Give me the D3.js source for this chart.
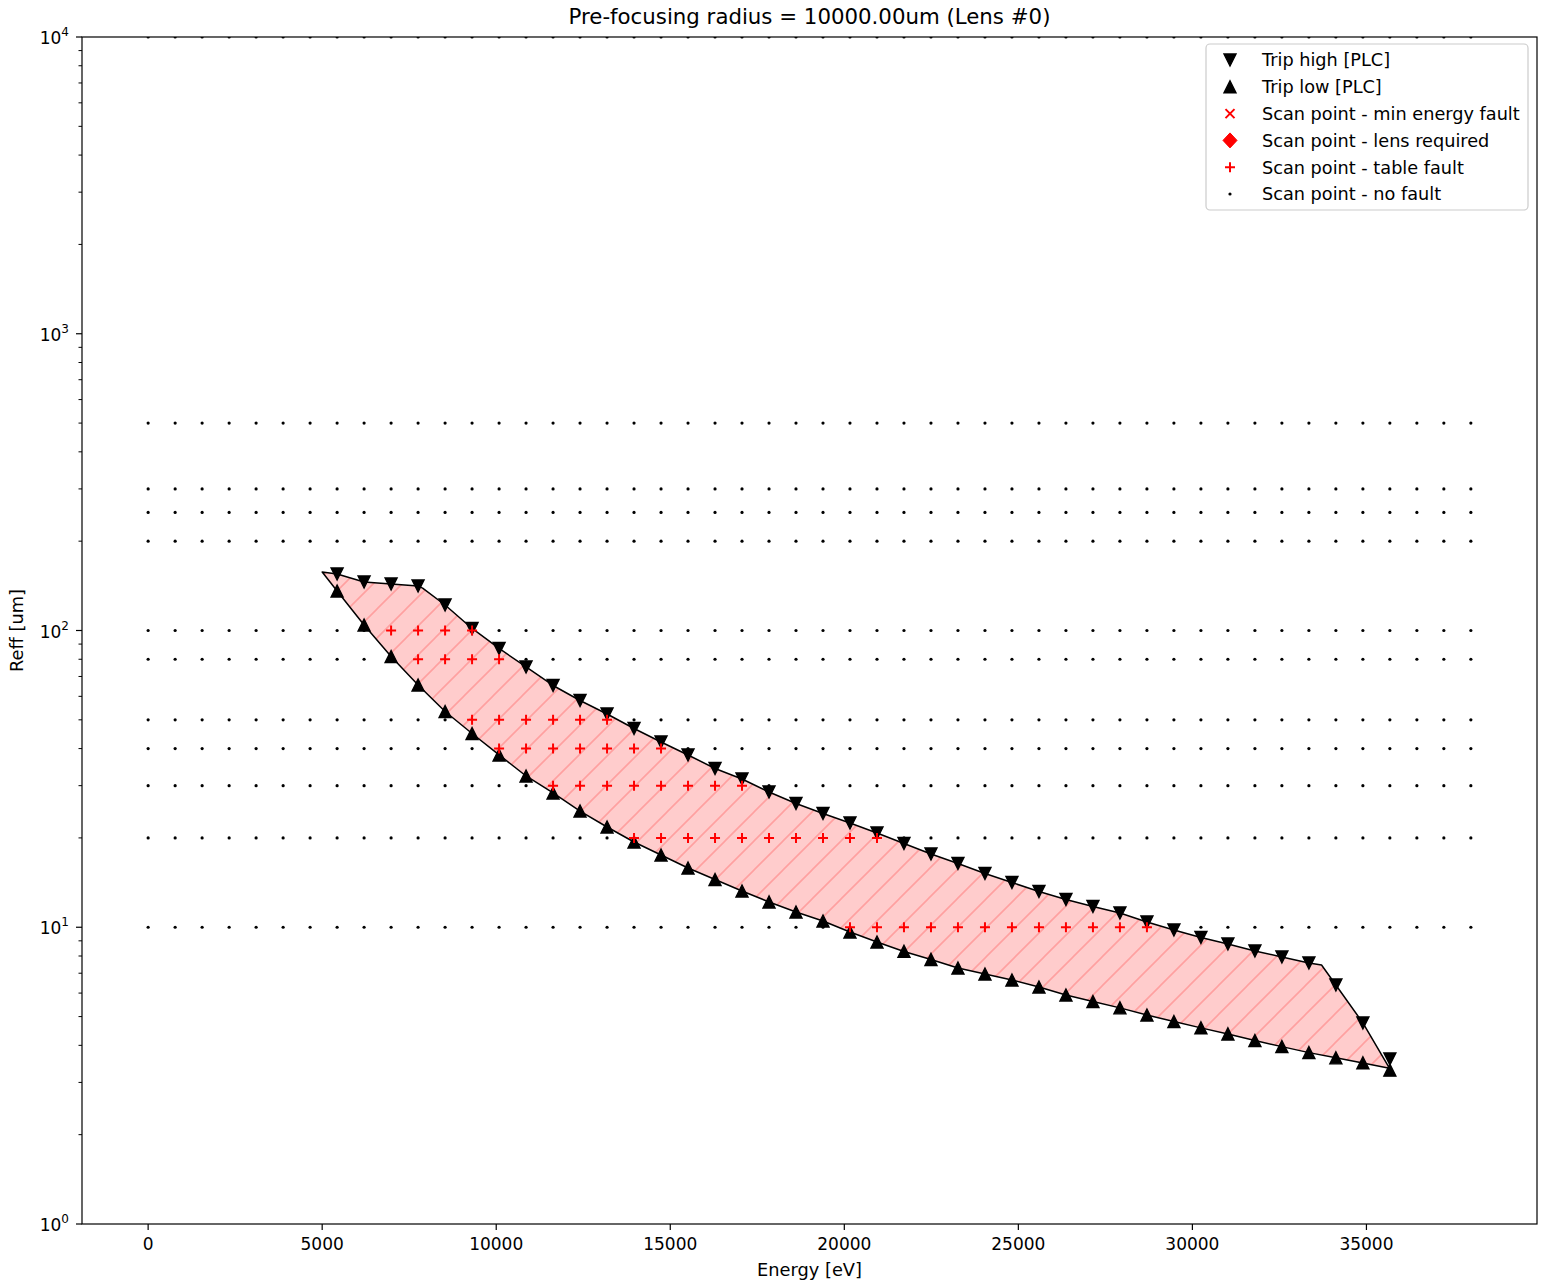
<!DOCTYPE html>
<html><head><meta charset="utf-8">
<script src="https://cdn.jsdelivr.net/npm/d3@7"></script>
<style>body{margin:0;background:#fff} svg{display:block} text{font-family:"DejaVu Sans",sans-serif;fill:#000}</style>
</head><body>
<svg id="chart" width="1544" height="1283"></svg>
<script>
// ---------- data ----------
const scanEnergies = [0,776,1551,2327,3102,3878,4653,5429,6204,6980,7755,8531,9306,10082,10857,11633,12408,13184,13959,14735,15510,16286,17061,17837,18612,19388,20163,20939,21714,22490,23265,24041,24816,25592,26367,27143,27918,28694,29469,30245,31020,31796,32571,33347,34122,34898,35673,36449,37224,38000];
const scanReff = [10,20,30,40,50,80,100,200,250,300,500,10000];
const tripEnergies = [5429,6204,6980,7755,8531,9306,10082,10857,11633,12408,13184,13959,14735,15510,16286,17061,17837,18612,19388,20163,20939,21714,22490,23265,24041,24816,25592,26367,27143,27918,28694,29469,30245,31020,31796,32571,33347,34122,34898,35673];
const tripHigh = [155.0,145.7,143.4,141.3,121.9,101.6,87.0,75.35,65.27,58.08,52.31,46.74,42.11,38.07,34.28,31.60,28.57,26.12,24.17,22.45,20.78,19.15,17.65,16.40,15.18,14.15,13.20,12.40,11.75,11.17,10.41,9.79,9.24,8.78,8.32,7.94,7.58,6.39,4.76,3.60];
const tripLow = [135.9,104.4,81.74,65.51,53.33,44.98,38.07,32.34,28.35,24.64,21.77,19.38,17.52,15.84,14.49,13.25,12.17,11.26,10.50,9.64,8.92,8.29,7.79,7.29,6.96,6.64,6.29,5.91,5.62,5.35,5.06,4.81,4.58,4.37,4.15,3.96,3.78,3.63,3.49,3.30];
const tableFault = [
  {reff:100, energies:[6980,7755,8531,9306]},
  {reff:80,  energies:[7755,8531,9306,10082]},
  {reff:50,  energies:[9306,10082,10857,11633,12408,13184]},
  {reff:40,  energies:[10082,10857,11633,12408,13184,13959,14735]},
  {reff:30,  energies:[11633,12408,13184,13959,14735,15510,16286,17061]},
  {reff:20,  energies:[13959,14735,15510,16286,17061,17837,18612,19388,20163,20939]},
  {reff:10,  energies:[20163,20939,21714,22490,23265,24041,24816,25592,26367,27143,27918,28694]}
];
const bandStart = [5000,157.4];
const bandEnd = [35660,3.35];
const bandKinkLow = [7885,139];
const bandKinkHigh = [33710,7.46];
const xTicks = [0,5000,10000,15000,20000,25000,30000,35000];
const yDecades = [0,1,2,3,4];
const legendLabels = ["Trip high [PLC]","Trip low [PLC]","Scan point - min energy fault","Scan point - lens required","Scan point - table fault","Scan point - no fault"];
const titleText = "Pre-focusing radius = 10000.00um (Lens #0)";

// ---------- layout ----------
const svg = d3.select("#chart");
const L = 82, R = 1537, T = 37, B = 1224;
const x = d3.scaleLinear().domain([-1900, 39900]).range([L, R]);
const y = d3.scaleLog().domain([1, 10000]).range([B, T]);

const defs = svg.append("defs");
defs.append("clipPath").attr("id","clip").append("rect")
  .attr("x",L).attr("y",T).attr("width",R-L).attr("height",B-T);
const HS = 29;
const pat = defs.append("pattern").attr("id","hatch").attr("patternUnits","userSpaceOnUse")
  .attr("width",HS).attr("height",HS);
pat.append("rect").attr("width",HS).attr("height",HS).attr("fill","#ffcccc");
pat.append("path").attr("d",`M-7,7L7,-7M0,${HS}L${HS},0M${HS-7},${HS+7}L${HS+7},${HS-7}`)
  .attr("stroke","#ffa0a0").attr("stroke-width",1.6);

const plot = svg.append("g").attr("clip-path","url(#clip)");

// band polygon
const upper = [bandStart]
  .concat(tripEnergies.slice(0,4).map((e,i)=>[e,tripHigh[i]]))
  .concat([bandKinkLow])
  .concat(tripEnergies.slice(4,37).map((e,i)=>[e,tripHigh[i+4]]))
  .concat([bandKinkHigh])
  .concat(tripEnergies.slice(37,39).map((e,i)=>[e,tripHigh[i+37]]))
  .concat([bandEnd]);
const lower = [bandStart]
  .concat(tripEnergies.slice(0,39).map((e,i)=>[e,tripLow[i]]))
  .concat([bandEnd]);
const poly = upper.concat(lower.slice().reverse());
const line = d3.line().x(d=>x(d[0])).y(d=>y(d[1]));
plot.append("path").attr("d", line(poly)+"Z")
  .attr("fill","url(#hatch)").attr("stroke","#000").attr("stroke-width",1.5).attr("stroke-linejoin","round");

// markers
const tri = 6;
const downTri = `M0,${tri}L${-tri},${-tri}L${tri},${-tri}Z`;
const upTri = `M0,${-tri}L${-tri},${tri}L${tri},${tri}Z`;
const plusP = "M-5,0H5M0,-5V5";
const crossP = "M-4.5,-4.5L4.5,4.5M-4.5,4.5L4.5,-4.5";
const diamondP = "M0,-7.5L7,0L0,7.5L-7,0Z";

plot.selectAll(".th").data(tripEnergies.map((e,i)=>[e,tripHigh[i]])).join("path")
  .attr("d",downTri).attr("transform",d=>`translate(${x(d[0])},${y(d[1])})`)
  .attr("fill","#000").attr("stroke","#000").attr("stroke-width",1.4);
plot.selectAll(".tl").data(tripEnergies.map((e,i)=>[e,tripLow[i]])).join("path")
  .attr("d",upTri).attr("transform",d=>`translate(${x(d[0])},${y(d[1])})`)
  .attr("fill","#000").attr("stroke","#000").attr("stroke-width",1.4);

// scan points
const faultSet = new Set();
tableFault.forEach(r=>r.energies.forEach(e=>faultSet.add(r.reff+"_"+e)));
const noFault = [];
scanReff.forEach(r=>scanEnergies.forEach(e=>{ if(!faultSet.has(r+"_"+e)) noFault.push([e,r]); }));
const faults = [];
tableFault.forEach(r=>r.energies.forEach(e=>faults.push([e,r.reff])));

plot.selectAll(".nf").data(noFault).join("circle")
  .attr("cx",d=>x(d[0])).attr("cy",d=>y(d[1])).attr("r",1.6).attr("fill","#000");
plot.selectAll(".tf").data(faults).join("path")
  .attr("d",plusP).attr("transform",d=>`translate(${x(d[0])},${y(d[1])})`)
  .attr("stroke","#ff0000").attr("stroke-width",2).attr("fill","none");

// ---------- axes ----------
const ax = svg.append("g");
xTicks.forEach(t=>{
  ax.append("line").attr("x1",x(t)).attr("x2",x(t)).attr("y1",B).attr("y2",B+6).attr("stroke","#000").attr("stroke-width",1.2);
  ax.append("text").attr("x",x(t)).attr("y",B+26).attr("text-anchor","middle").attr("font-size",17).text(t);
});
yDecades.forEach(p=>{
  const v = Math.pow(10,p);
  ax.append("line").attr("x1",L-6).attr("x2",L).attr("y1",y(v)).attr("y2",y(v)).attr("stroke","#000").attr("stroke-width",1.2);
  const t = ax.append("text").attr("x",L-13).attr("y",y(v)+7).attr("text-anchor","end").attr("font-size",17);
  t.append("tspan").text("10");
  t.append("tspan").attr("font-size",12).attr("dy",-8).text(p);
  if(p<4){
    [2,3,4,5,6,7,8,9].forEach(m=>{
      const mv = m*v;
      ax.append("line").attr("x1",L-3.5).attr("x2",L).attr("y1",y(mv)).attr("y2",y(mv)).attr("stroke","#000").attr("stroke-width",1);
    });
  }
});
ax.append("rect").attr("x",L).attr("y",T).attr("width",R-L).attr("height",B-T)
  .attr("fill","none").attr("stroke","#000").attr("stroke-width",1.2);

svg.append("text").attr("x",(L+R)/2).attr("y",B+52).attr("text-anchor","middle").attr("font-size",17.8).text("Energy [eV]");
svg.append("text").attr("transform",`translate(23,${(T+B)/2}) rotate(-90)`).attr("text-anchor","middle").attr("font-size",17.8).text("Reff [um]");
svg.append("text").attr("x",(L+R)/2).attr("y",24).attr("text-anchor","middle").attr("font-size",21.3).text(titleText);

// ---------- legend ----------
const lg = svg.append("g");
lg.append("rect").attr("x",1206).attr("y",44).attr("width",322).attr("height",166).attr("rx",4)
  .attr("fill","#fff").attr("fill-opacity",0.8).attr("stroke","#cccccc").attr("stroke-width",1.2);
const legendMarks = [
  {d:downTri, fill:"#000", stroke:"#000", sw:1.4},
  {d:upTri, fill:"#000", stroke:"#000", sw:1.4},
  {d:crossP, fill:"none", stroke:"#ff0000", sw:2},
  {d:diamondP, fill:"#ff0000", stroke:"#ff0000", sw:1},
  {d:plusP, fill:"none", stroke:"#ff0000", sw:2},
  {circle:true}
];
legendLabels.forEach((lab,i)=>{
  const yy = 60 + i*26.8;
  const m = legendMarks[i];
  if(m.circle) lg.append("circle").attr("cx",1230).attr("cy",yy).attr("r",1.6).attr("fill","#000");
  else lg.append("path").attr("d",m.d).attr("transform",`translate(1230,${yy})`)
    .attr("fill",m.fill).attr("stroke",m.stroke).attr("stroke-width",m.sw);
  lg.append("text").attr("x",1262).attr("y",yy+6.3).attr("font-size",17.7).text(lab);
});
</script>
</body></html>
